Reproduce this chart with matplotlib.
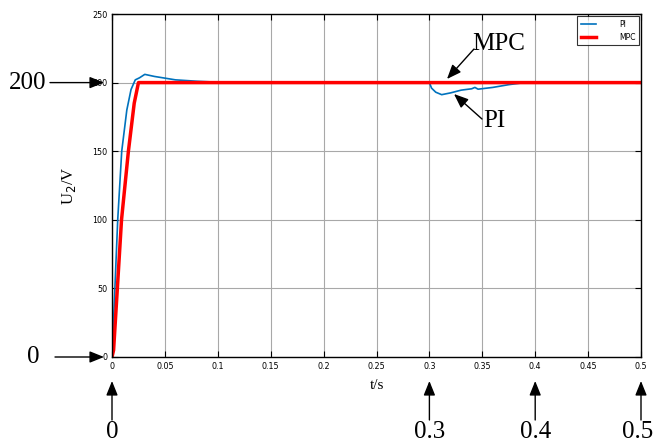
import matplotlib.pyplot as plt
import numpy as np

# PI response
t_pi = [0, 0.003, 0.0054, 0.0092, 0.014, 0.018, 0.022, 0.026, 0.031, 0.04, 0.06, 0.08, 0.1,
        0.3, 0.302, 0.306, 0.3116, 0.32, 0.33, 0.34, 0.343, 0.346, 0.36, 0.375, 0.39, 0.5]
u_pi = [0, 55, 100, 150, 180, 195, 202, 203.5, 206, 204.5, 202, 201, 200.3,
        200, 196, 193, 191.2, 192.5, 194.5, 195.5, 196.5, 195.2, 196.5, 198.5, 200, 200]

# MPC response
t_mpc = [0, 0.0015, 0.009, 0.0155, 0.021, 0.025, 0.5]
u_mpc = [0, 5, 100, 150, 185, 200, 200]

xticks = [0, 0.05, 0.1, 0.15, 0.2, 0.25, 0.3, 0.35, 0.4, 0.45, 0.5]
xticklabels = ['0', '0.05', '0.1', '0.15', '0.2', '0.25', '0.3', '0.35', '0.4', '0.45', '0.5']
yticks = [0, 50, 100, 150, 200, 250]
marked_t = [0, 0.3, 0.4, 0.5]
marked_t_labels = ['0', '0.3', '0.4', '0.5']
marked_u = [200, 0]
marked_u_labels = ['200', '0']

serif = 'Liberation Serif'

fig = plt.figure(figsize=(6.55, 4.46), dpi=100)
ax = fig.add_axes([112/655, 89/446, 529/655, 343/446])

ax.plot(t_pi, u_pi, color='#0072BD', lw=1.2, label='PI')
ax.plot(t_mpc, u_mpc, color='#FF0000', lw=2.5, label='MPC')

ax.set_xlim(0, 0.5)
ax.set_ylim(0, 250)
ax.set_xticks(xticks)
ax.set_xticklabels(xticklabels)
ax.set_yticks(yticks)
ax.tick_params(direction='in', top=True, right=True, labelsize=5.8, length=4, width=0.8)
ax.grid(True, color='#a8a8a8', lw=0.8)
for s in ax.spines.values():
    s.set_linewidth(1.0)

ax.set_xlabel('t/s', fontfamily=serif, fontsize=11, labelpad=6)
ax.set_ylabel('U$_2$/V', fontfamily=serif, fontsize=12, labelpad=10)

leg = ax.legend(loc='upper right', fontsize=5.5, fancybox=False, edgecolor='black',
                handlelength=2.0, handletextpad=3.0, borderaxespad=0.25, borderpad=0.5)
leg.get_frame().set_linewidth(0.8)

arrow = dict(arrowstyle='-|>,head_length=0.62,head_width=0.25', color='black', lw=1.0,
             mutation_scale=14, shrinkA=0, shrinkB=0)

# curve annotations
ax.annotate('', xy=(447, 446-79), xytext=(474, 446-49), xycoords='figure pixels', arrowprops=arrow)
fig.text(499/655, (446-44)/446, 'MPC', fontfamily=serif, fontsize=18, ha='center', va='center')
ax.annotate('', xy=(454, 446-94), xytext=(482, 446-119), xycoords='figure pixels', arrowprops=arrow)
fig.text(494/655, (446-121)/446, 'PI', fontfamily=serif, fontsize=18, ha='center', va='center')

# y markers on the left
tail_x = [50, 55]
for u, lab, tx in zip(marked_u, marked_u_labels, tail_x):
    ax.annotate('', xy=(104, u), xytext=(tx, u), xycoords=('figure pixels', 'data'),
                textcoords=('figure pixels', 'data'), arrowprops=arrow, annotation_clip=False)
    ax.annotate(lab, xy=(tx - 22, u), xycoords=('figure pixels', 'data'), fontfamily=serif,
                fontsize=18, ha='center', va='center', annotation_clip=False)

# t markers below
label_shift = [0, 0, 0, -3]
for t, lab, dx in zip(marked_t, marked_t_labels, label_shift):
    ax.annotate('', xy=(t, 446-381), xytext=(t, 446-420), xycoords=('data', 'figure pixels'),
                textcoords=('data', 'figure pixels'), arrowprops=arrow, annotation_clip=False)
    ax.annotate(lab, xy=(t, 446-432), xycoords=('data', 'figure pixels'), xytext=(dx, 0),
                textcoords='offset pixels', fontfamily=serif,
                fontsize=18, ha='center', va='center', annotation_clip=False)

fig.savefig('out.png', dpi=100)
